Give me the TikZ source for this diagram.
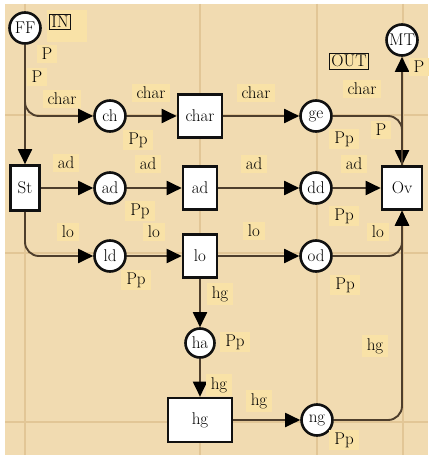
\documentclass[tikz,border=0pt]{standalone}
\usetikzlibrary{arrows.meta,positioning,calc}
\definecolor{pnBack}{HTML}{F1DBB1}
\definecolor{pnGrid}{HTML}{E2C696}
\definecolor{pnLabel}{HTML}{F9E2A7}
\definecolor{pnArc}{HTML}{4E3E2C}
\definecolor{pnInk}{HTML}{111111}
\tikzset{
  pl/.style={circle, draw=pnInk, fill=white, line width=2.6pt, minimum size=31pt, inner sep=0pt},
  tr/.style={rectangle, draw=pnInk, fill=white, line width=2.6pt, minimum width=34pt, minimum height=43pt, inner sep=0pt},
  arc/.style={-{Triangle[length=15pt,width=14pt,color=black]}, line width=1.9pt, draw=pnArc, rounded corners=14pt},
  lbl/.style={fill=pnLabel, inner xsep=5pt, inner ysep=3pt},
  tag/.style={draw=pnInk, line width=0.8pt, inner sep=2pt, fill=pnLabel},
}

\begin{document}
\begin{tikzpicture}[x=1pt,y=-1pt,font=\fontsize{17}{20}\selectfont]
  \useasboundingbox (0,0) rectangle (428,457);
  % background and grid
  \fill[white] (0,0) rectangle (428,457);
  \fill[pnBack] (5,4) rectangle (428,455);
  \foreach \gx in {25,200,317,403} {
    \draw[pnGrid, line width=1.6pt] (\gx,4) -- (\gx,455);
  }
  \foreach \gy in {115,253,422} {
    \draw[pnGrid, line width=1.6pt] (5,\gy) -- (428,\gy);
  }
  % places
  \node[pl] (FF) at (25,28) {FF};
  \node[pl] (MT) at (402,40) {MT};
  \node[pl] (ch) at (110,116) {ch};
  \node[pl] (ge) at (316,116) {ge};
  \node[pl] (adp) at (110,188) {ad};
  \node[pl] (dd) at (316,188) {dd};
  \node[pl] (ld) at (110,256) {ld};
  \node[pl] (od) at (316,256) {od};
  \node[pl, minimum size=29pt] (ha) at (200,343) {ha};
  \node[pl] (ng) at (317,420) {ng};
  % transitions
  \node[tr, minimum width=29pt, minimum height=45pt] (St) at (25,188) {St};
  \node[tr, minimum width=44pt] (char) at (200,116) {char};
  \node[tr] (adt) at (200,188) {ad};
  \node[tr] (lo) at (200,256) {lo};
  \node[tr, minimum width=40pt] (Ov) at (402,188) {Ov};
  \node[tr, minimum width=64pt, minimum height=44pt] (hg) at (200,420) {hg};
  % in / out tags
  \fill[pnLabel] (47,10) rectangle (87,42);
  \node[tag] (in) at (60,22) {IN};
  \node[tag] (out) at (349,61) {OUT};
  % arcs
  \draw[arc] (FF) -- (St);
  \draw[arc] (FF) |- (ch);
  \draw[arc] (St) -- (adp);
  \draw[arc] (St) |- (ld);
  \draw[arc] (ch) -- (char);
  \draw[arc] (adp) -- (adt);
  \draw[arc] (ld) -- (lo);
  \draw[arc] (char) -- (ge);
  \draw[arc] (adt) -- (dd);
  \draw[arc] (lo) -- (od);
  \draw[arc] (ge) -| (Ov);
  \draw[arc] (dd) -- (Ov);
  \draw[arc] (od) -| (Ov);
  \draw[arc] (ng) -| (Ov);
  \draw[arc] (Ov) -- (MT);
  \draw[arc] (lo) -- (ha);
  \draw[arc] (ha) -- (hg);
  \draw[arc] (hg) -- (ng);
  % arc labels
  \node[lbl] at (47,54) {P};
  \node[lbl] at (37,77) {P};
  \node[lbl] at (62,99) {char};
  \node[lbl] at (151,93) {char};
  \node[lbl] at (256,93) {char};
  \node[lbl] at (362,89) {char};
  \node[lbl] at (419,67) {P};
  \node[lbl] at (381,130) {P};
  \node[lbl] at (66,163) {ad};
  \node[lbl] at (148,164) {ad};
  \node[lbl] at (254,164) {ad};
  \node[lbl] at (354,164) {ad};
  \node[lbl] at (68,232) {lo};
  \node[lbl] at (154,232) {lo};
  \node[lbl] at (254,231) {lo};
  \node[lbl] at (378,232) {lo};
  \node[lbl] at (220,294) {hg};
  \node[lbl] at (219,385) {hg};
  \node[lbl] at (259,401) {hg};
  \node[lbl] at (375,346) {hg};
  % place marks
  \node[lbl] at (138,140) {Pp};
  \node[lbl] at (140,211) {Pp};
  \node[lbl] at (136,280) {Pp};
  \node[lbl] at (344,139) {Pp};
  \node[lbl] at (344,216) {Pp};
  \node[lbl] at (345,285) {Pp};
  \node[lbl] at (235,342) {Pp};
  \node[lbl] at (344,440) {Pp};
\end{tikzpicture}
\end{document}
